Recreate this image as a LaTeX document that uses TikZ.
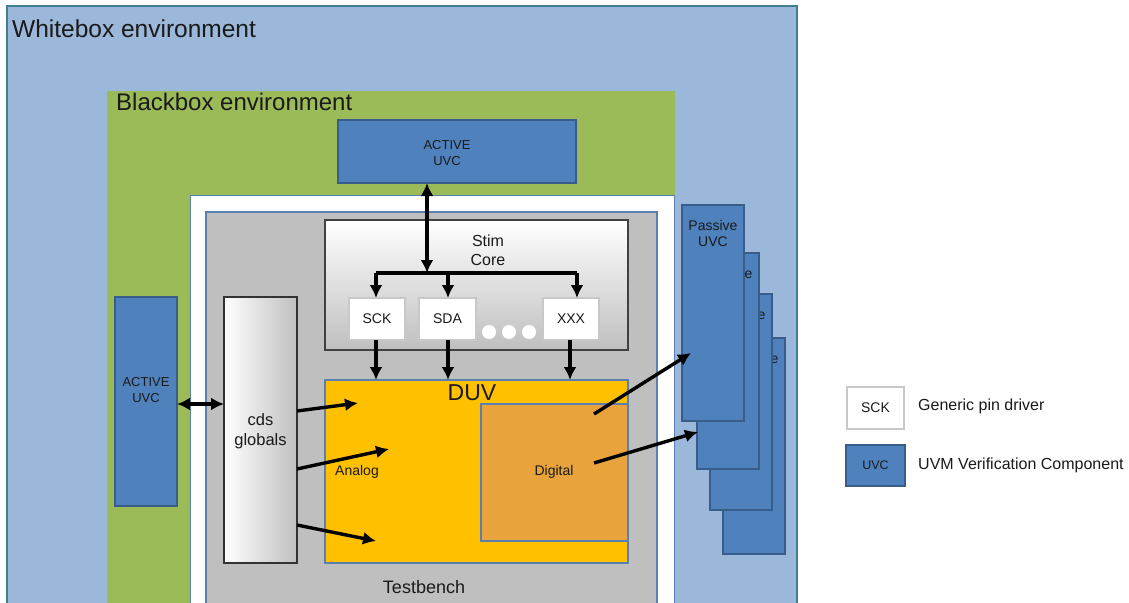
\documentclass[tikz,border=0pt]{standalone}
\usepackage{fontspec}
\setmainfont{Liberation Sans}
\usetikzlibrary{arrows.meta,calc}
\definecolor{wbfill}{HTML}{9BB7D9}
\definecolor{wbline}{HTML}{3F7F8F}
\definecolor{bbfill}{HTML}{9BBB59}
\definecolor{tbfill}{HTML}{BFBFBF}
\definecolor{tbline}{HTML}{5B7FAF}
\definecolor{uvcfill}{HTML}{4F81BD}
\definecolor{uvcline}{HTML}{385D8A}
\definecolor{duvfill}{HTML}{FFC000}
\definecolor{digfill}{HTML}{E8A33C}
\definecolor{pinline}{HTML}{C8C8C8}
\definecolor{txt}{HTML}{1A1A1A}
\tikzset{
  box/.style={rectangle, anchor=north west, outer sep=0pt, inner sep=0pt},
  uvcbox/.style={box, fill=uvcfill, draw=uvcline, line width=1.8pt},
  pinbox/.style={box, fill=white, draw=pinline, line width=1.2pt, font=\fontsize{14}{16}\selectfont},
  conn/.style={line width=3.4pt, -{Latex[length=13pt,width=13pt]}},
  bidir/.style={line width=3.4pt, {Latex[length=13pt,width=13pt]}-{Latex[length=13pt,width=13pt]}},
  bus/.style={line width=3.4pt},
  lbl/.style={align=center, text=txt, inner sep=0pt},
}
\begin{document}
\begin{tikzpicture}[x=1pt,y=-1pt]
\useasboundingbox (0,0) rectangle (1129,602);
\fill[white] (0,0) rectangle (1129,602);
% Whitebox
\node[box, fill=wbfill, draw=wbline, line width=1.8pt, minimum width=790, minimum height=620] (wb) at (7,6) {};
\node[lbl, anchor=west, font=\fontsize{24.5}{27}\selectfont] (wbt) at (12,29) {Whitebox environment};
% Blackbox
\node[box, fill=bbfill, minimum width=568, minimum height=520] (bb) at (107,91) {};
\node[lbl, anchor=west, font=\fontsize{24}{27}\selectfont] (bbt) at (116,102) {Blackbox environment};
% white frame
\node[box, fill=white, draw=tbline, line width=0.8pt, minimum width=484, minimum height=420] (wf) at (190,195) {};
% Testbench
\node[box, fill=tbfill, draw=tbline, line width=1.4pt, minimum width=451, minimum height=400] (tb) at (206,212) {};
\node[lbl, font=\fontsize{18}{20}\selectfont] (tbt) at (424,587) {Testbench};
% top active UVC
\node[uvcbox, minimum width=238, minimum height=63] (topuvc) at (338,120) {};
\node[lbl, font=\fontsize{13}{16}\selectfont] (topuvct) at (447,153) {ACTIVE\\UVC};
% Stim core
\node[box, top color=white, bottom color=tbfill, draw=black!75, line width=1.4pt, minimum width=303, minimum height=130] (stim) at (325,220) {};
\node[lbl, font=\fontsize{16}{19}\selectfont] (stimt) at (488,250) {Stim\\Core};
\node[pinbox, minimum width=56, minimum height=42] (sck) at (349,298) {};
\node[lbl, font=\fontsize{14}{16}\selectfont] at (sck.center) {SCK};
\node[pinbox, minimum width=57, minimum height=42] (sda) at (419,298) {};
\node[lbl, font=\fontsize{14}{16}\selectfont] at (sda.center) {SDA};
\node[pinbox, minimum width=56, minimum height=42] (xxx) at (543,298) {};
\node[lbl, font=\fontsize{14}{16}\selectfont] at (xxx.center) {XXX};
\foreach \cx/\nm in {489/d1,509/d2,529/d3}
  \node[circle, fill=white, minimum size=14pt, inner sep=0pt] (\nm) at (\cx,332) {};
% DUV
\node[box, fill=duvfill, draw=tbline, line width=1.4pt, minimum width=303, minimum height=183] (duv) at (325,380) {};
\node[lbl, font=\fontsize{23}{26}\selectfont] (duvt) at (472,393) {DUV};
\node[lbl, font=\fontsize{14}{16}\selectfont] (ana) at (357,472) {Analog};
\node[box, fill=digfill, draw=tbline, line width=1.4pt, minimum width=147, minimum height=137] (dig) at (481,404) {};
\node[lbl, font=\fontsize{14}{16}\selectfont] (digt) at (554,472) {Digital};
% cds globals
\node[box, left color=white, right color=tbfill, draw=black!80, line width=1.4pt, minimum width=73, minimum height=266] (cds) at (224,297) {};
\node[lbl, font=\fontsize{16.5}{20}\selectfont] (cdst) at ($(cds.center)+(0,1)$) {cds\\globals};
% left active UVC
\node[uvcbox, minimum width=62, minimum height=209] (leftuvc) at (115,297) {};
\node[lbl, font=\fontsize{13}{16}\selectfont] (leftuvct) at (146,390) {ACTIVE\\UVC};
% Passive UVC stack (back to front)
\node[uvcbox, minimum width=62, minimum height=216] (p4) at (723,338) {};
\node[lbl, font=\fontsize{14}{16}\selectfont, anchor=north] at ($(p4.north)+(0,15)$) {Passive\\UVC};
\node[uvcbox, minimum width=62, minimum height=216] (p3) at (710,294) {};
\node[lbl, font=\fontsize{14}{16}\selectfont, anchor=north] at ($(p3.north)+(0,15)$) {Passive\\UVC};
\node[uvcbox, minimum width=62, minimum height=216] (p2) at (697,253) {};
\node[lbl, font=\fontsize{14}{16}\selectfont, anchor=north] at ($(p2.north)+(0,15)$) {Passive\\UVC};
\node[uvcbox, minimum width=62, minimum height=216] (p1) at (682,205) {};
\node[lbl, font=\fontsize{14}{16}\selectfont, anchor=north] at ($(p1.north)+(0,15)$) {Passive\\UVC};
% Connectors
\coordinate (bj) at (427,273);
\draw[bidir] (topuvc.south -| bj) -- (bj);
\coordinate (bl) at (376,273);
\coordinate (br) at (577,273);
\draw[bus] (bl) -- (br);
\draw[conn] (bl) -- (bl |- sck.north);
\draw[conn] (448,273) -- (448,298);
\draw[conn] (br) -- (br |- xxx.north);
\draw[conn] (sck.south -| 376,0) -- (376,380);
\draw[conn] (sda.south -| 448,0) -- (448,380);
\draw[conn] (xxx.south -| 570,0) -- (570,380);
\coordinate (la) at (0,404);
\draw[bidir] (leftuvc.east |- la) -- (cds.west |- la);
\coordinate (c1) at (297,411); \coordinate (e1) at (358,403);
\coordinate (c2) at (297,469); \coordinate (e2) at (389,449);
\coordinate (c3) at (297,525); \coordinate (e3) at (376,541);
\draw[conn] (c1) -- (e1);
\draw[conn] (c2) -- (e2);
\draw[conn] (c3) -- (e3);
\coordinate (g1) at (594,414); \coordinate (h1) at (691,353);
\coordinate (g2) at (594,463); \coordinate (h2) at (698,432);
\draw[conn] (g1) -- (h1);
\draw[conn] (g2) -- (h2);
% Legend
\node[pinbox, draw=pinline, line width=1.8pt, minimum width=57, minimum height=42] (lsck) at (847,387) {};
\node[lbl, font=\fontsize{14}{16}\selectfont] at (lsck.center) {SCK};
\node[lbl, anchor=west, font=\fontsize{16}{18}\selectfont] (lsckt) at (918,406) {Generic pin driver};
\node[uvcbox, minimum width=59, minimum height=41] (luvc) at (846,445) {};
\node[lbl, font=\fontsize{12.5}{15}\selectfont] at (luvc.center) {UVC};
\node[lbl, anchor=west, font=\fontsize{16}{18}\selectfont] (luvct) at (918,465) {UVM Verification Component};
\end{tikzpicture}
\end{document}
